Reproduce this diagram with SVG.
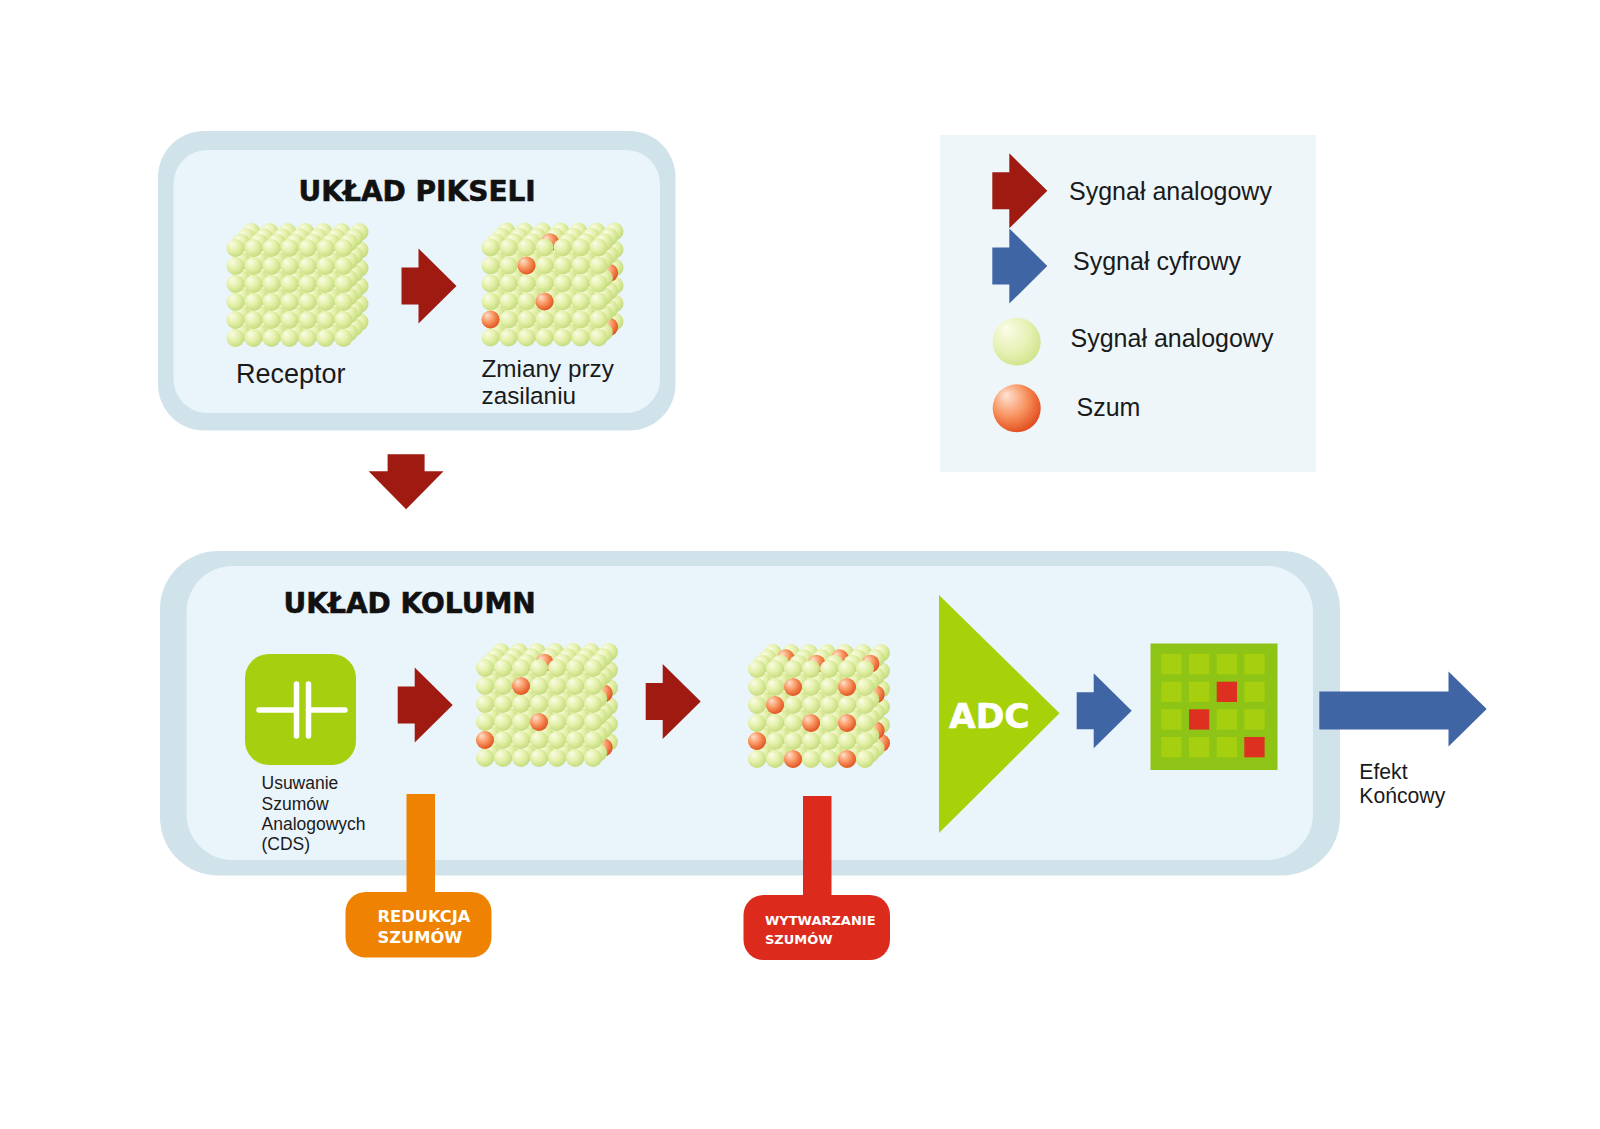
<svg xmlns="http://www.w3.org/2000/svg" xmlns:xlink="http://www.w3.org/1999/xlink" width="1600" height="1129" viewBox="0 0 1600 1129">
<style>
.title{font-family:"DejaVu Sans","Liberation Sans",sans-serif;font-weight:bold;font-size:28px;fill:#111;stroke:#111;stroke-width:0.6;}
.lbl{font-family:"Liberation Sans",Arial,sans-serif;fill:#1a1a1a;}
.tab{font-family:"DejaVu Sans","Liberation Sans",sans-serif;font-weight:bold;fill:#fff;}
.red{fill:#9f1b12;}
.blue{fill:#4065a5;}
</style>
<defs>
<radialGradient id="gG" cx="0.4" cy="0.38" r="0.65" fx="0.3" fy="0.26">
<stop offset="0" stop-color="#fafce6"/>
<stop offset="0.55" stop-color="#e3f0a8"/>
<stop offset="1" stop-color="#c4da7c"/>
</radialGradient>
<radialGradient id="gO" cx="0.4" cy="0.38" r="0.65" fx="0.3" fy="0.26">
<stop offset="0" stop-color="#ffe0cc"/>
<stop offset="0.5" stop-color="#f99863"/>
<stop offset="1" stop-color="#e0501f"/>
</radialGradient>
<radialGradient id="gGL" cx="0.4" cy="0.38" r="0.68" fx="0.28" fy="0.22">
<stop offset="0" stop-color="#fbfce8"/>
<stop offset="0.6" stop-color="#e6f1b4"/>
<stop offset="1" stop-color="#cfe28a"/>
</radialGradient>
<radialGradient id="gOL" cx="0.4" cy="0.38" r="0.68" fx="0.28" fy="0.22">
<stop offset="0" stop-color="#ffe4d4"/>
<stop offset="0.55" stop-color="#f7925e"/>
<stop offset="1" stop-color="#e04618"/>
</radialGradient>
<circle id="b" r="9" fill="url(#gG)"/>
<circle id="o" r="9" fill="url(#gO)"/>
<g id="row">
<use xlink:href="#b" x="9"/><use xlink:href="#b" x="27"/><use xlink:href="#b" x="45"/><use xlink:href="#b" x="63"/><use xlink:href="#b" x="81"/><use xlink:href="#b" x="99"/><use xlink:href="#b" x="117"/>
</g>
<g id="layer">
<use xlink:href="#row" y="25"/><use xlink:href="#row" y="43"/><use xlink:href="#row" y="61"/><use xlink:href="#row" y="79"/><use xlink:href="#row" y="97"/><use xlink:href="#row" y="115"/>
</g>
<g id="cubePlain">
<use xlink:href="#layer" x="16" y="-16"/>
<use xlink:href="#layer" x="10.67" y="-10.67"/>
<use xlink:href="#layer" x="5.33" y="-5.33"/>
<use xlink:href="#layer"/>
</g>
<g id="cubeNoise">
<use xlink:href="#layer" x="16" y="-16"/>
<use xlink:href="#layer" x="10.67" y="-10.67"/>
<use xlink:href="#o" x="127.67" y="50.33"/><use xlink:href="#o" x="127.67" y="104.33"/>
<use xlink:href="#layer" x="5.33" y="-5.33"/>
<use xlink:href="#o" x="68.33" y="19.67"/>
<use xlink:href="#layer"/>
<use xlink:href="#o" x="45" y="43"/><use xlink:href="#o" x="63" y="79"/><use xlink:href="#o" x="9" y="97"/>
</g>
<g id="cubeHeavy">
<use xlink:href="#layer" x="16" y="-16"/>
<use xlink:href="#o" x="133" y="99"/>
<use xlink:href="#layer" x="10.67" y="-10.67"/>
<use xlink:href="#o" x="37.67" y="14.33"/><use xlink:href="#o" x="91.67" y="14.33"/><use xlink:href="#o" x="127.67" y="50.33"/><use xlink:href="#o" x="127.67" y="86.33"/>
<use xlink:href="#layer" x="5.33" y="-5.33"/>
<use xlink:href="#o" x="68.33" y="19.67"/><use xlink:href="#o" x="122.33" y="19.67"/>
<use xlink:href="#layer"/>
<use xlink:href="#o" x="45" y="43"/><use xlink:href="#o" x="99" y="43"/><use xlink:href="#o" x="27" y="61"/><use xlink:href="#o" x="63" y="79"/><use xlink:href="#o" x="99" y="79"/><use xlink:href="#o" x="9" y="97"/><use xlink:href="#o" x="45" y="115"/><use xlink:href="#o" x="99" y="115"/>
</g>
<path id="arr" d="M-55,-18.5 H-38 V-37.5 L0,0 L-38,37.5 V18.5 H-55 Z"/>
</defs>

<rect width="1600" height="1129" fill="#ffffff"/>

<g id="pixel-array">
<rect x="158" y="131" width="517.5" height="299.5" rx="46" fill="#d1e3ea"/>
<rect x="173.5" y="150" width="486.5" height="263" rx="34" fill="#eaf5fb"/>
<text class="title" x="298.5" y="201">UKŁAD PIKSELI</text>
</g>

<g id="receptor">
<use xlink:href="#cubePlain" x="226.5" y="223"/>
<text class="lbl" x="236" y="383" font-size="27">Receptor</text>
</g>

<g id="power-changes">
<use xlink:href="#cubeNoise" x="481.5" y="222.5"/>
<text class="lbl" x="481.5" y="377" font-size="24.3">Zmiany przy</text>
<text class="lbl" x="481.5" y="404" font-size="24.3">zasilaniu</text>
</g>

<g id="column-array">
<rect x="160" y="551" width="1180" height="324.5" rx="58" fill="#d1e3ea"/>
<rect x="186.5" y="566" width="1126.5" height="294" rx="46" fill="#eaf5fb"/>
<text class="title" x="283.5" y="613">UKŁAD KOLUMN</text>
</g>

<g id="cds">
<rect x="245" y="654" width="111" height="111" rx="24" fill="#a6cf0f"/>
<g stroke="#ffffff" stroke-width="5.5" stroke-linecap="round" fill="none">
<line x1="259" y1="710" x2="296.5" y2="710"/>
<line x1="308.5" y1="710" x2="345" y2="710"/>
<line x1="296.5" y1="684" x2="296.5" y2="736"/>
<line x1="308.5" y1="684" x2="308.5" y2="736"/>
</g>
<text class="lbl" font-size="17.5"><tspan x="261.5" y="789">Usuwanie</tspan><tspan x="261.5" y="809.5">Szumów</tspan><tspan x="261.5" y="829.5">Analogowych</tspan><tspan x="261.5" y="850">(CDS)</tspan></text>
</g>

<g id="cube-after-cds">
<use xlink:href="#cubeNoise" x="476" y="643"/>
</g>

<g id="cube-noisy">
<use xlink:href="#cubeHeavy" x="748" y="644"/>
</g>

<g id="adc">
<polygon points="939,595 1059.5,713.3 939,833" fill="#a7d108"/>
<text class="tab" x="949" y="727.5" font-size="34.5" stroke="#fff" stroke-width="0.6">ADC</text>
</g>

<g id="digital-grid">
<rect x="1150.5" y="643.5" width="127" height="126.5" fill="#8dc416"/>
<g fill="#a6d00f">
<rect x="1161.3" y="654" width="20.3" height="20.3"/><rect x="1189" y="654" width="20.3" height="20.3"/><rect x="1216.7" y="654" width="20.3" height="20.3"/><rect x="1244.3" y="654" width="20.3" height="20.3"/>
<rect x="1161.3" y="681.7" width="20.3" height="20.3"/><rect x="1189" y="681.7" width="20.3" height="20.3"/><rect x="1244.3" y="681.7" width="20.3" height="20.3"/>
<rect x="1161.3" y="709.3" width="20.3" height="20.3"/><rect x="1216.7" y="709.3" width="20.3" height="20.3"/><rect x="1244.3" y="709.3" width="20.3" height="20.3"/>
<rect x="1161.3" y="737" width="20.3" height="20.3"/><rect x="1189" y="737" width="20.3" height="20.3"/><rect x="1216.7" y="737" width="20.3" height="20.3"/>
</g>
<g fill="#dd3020">
<rect x="1216.7" y="681.7" width="20.3" height="20.3"/>
<rect x="1189" y="709.3" width="20.3" height="20.3"/>
<rect x="1244.3" y="737" width="20.3" height="20.3"/>
</g>
</g>

<g id="noise-reduction">
<rect x="406.5" y="794" width="28.5" height="110" fill="#ef8200"/>
<rect x="345.5" y="892" width="146" height="65.5" rx="20" fill="#ef8200"/>
<text class="tab" font-size="16.3"><tspan x="377.5" y="921.5">REDUKCJA</tspan><tspan x="377.5" y="942.5">SZUMÓW</tspan></text>
</g>

<g id="noise-generation">
<rect x="803" y="796" width="28.5" height="110" fill="#dc2b1c"/>
<rect x="743.5" y="895" width="146.5" height="65" rx="20" fill="#dc2b1c"/>
<text class="tab" font-size="13"><tspan x="765" y="924.5">WYTWARZANIE</tspan><tspan x="765" y="943.5">SZUMÓW</tspan></text>
</g>

<g id="output">
<polygon class="blue" points="1319.3,691.5 1448.5,691.5 1448.5,671.5 1486.7,709 1448.5,746.5 1448.5,729.5 1319.3,729.5"/>
<text class="lbl" font-size="21.2"><tspan x="1359.3" y="778.5">Efekt</tspan><tspan x="1359.3" y="803">Końcowy</tspan></text>
</g>

<g id="connectors">
<use xlink:href="#arr" class="red" transform="translate(456.5,286)"/>
<use xlink:href="#arr" class="red" transform="translate(406.1,509.2) rotate(90)"/>
<use xlink:href="#arr" class="red" transform="translate(452.7,705)"/>
<use xlink:href="#arr" class="red" transform="translate(700.7,701.5)"/>
<use xlink:href="#arr" class="blue" transform="translate(1131.7,710.8)"/>
</g>

<g id="legend">
<rect x="940" y="135" width="376" height="337" fill="#eef6fa"/>
<use xlink:href="#arr" class="red" transform="translate(1047.3,190.8)"/>
<use xlink:href="#arr" class="blue" transform="translate(1047.3,266)"/>
<circle cx="1016.7" cy="341.7" r="24" fill="url(#gGL)"/>
<circle cx="1016.7" cy="408.3" r="24" fill="url(#gOL)"/>
<text class="lbl" x="1069" y="199.5" font-size="25">Sygnał analogowy</text>
<text class="lbl" x="1073" y="270" font-size="25">Sygnał cyfrowy</text>
<text class="lbl" x="1070.5" y="347" font-size="25">Sygnał analogowy</text>
<text class="lbl" x="1076.5" y="415.5" font-size="25">Szum</text>
</g>
</svg>
